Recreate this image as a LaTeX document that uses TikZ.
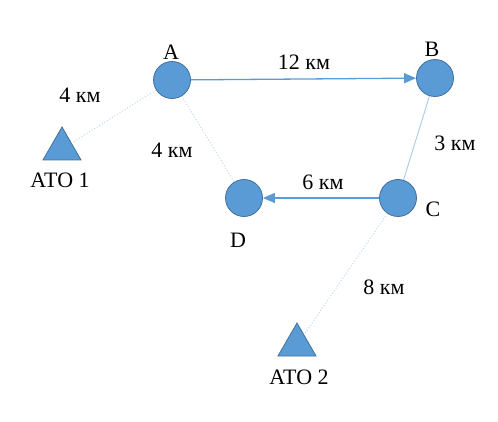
\documentclass[tikz,border=0pt]{standalone}
\usepackage{fontspec}
\setmainfont{Liberation Serif}
\usetikzlibrary{shapes.geometric,arrows.meta}
\definecolor{stfill}{HTML}{5B9BD5}
\definecolor{stdraw}{HTML}{41719C}
\definecolor{lightlink}{HTML}{BDD7EE}
\tikzset{
  station/.style={
    shape = circle,
    draw = stdraw,
    fill = stfill,
    line width = 0.8pt,
    minimum size = 37pt,
    inner sep = 0pt
  },
  ato/.style={
    shape = regular polygon,
    regular polygon sides = 3,
    draw = stdraw,
    fill = stfill,
    line width = 0.8pt,
    minimum size = 44pt,
    inner sep = 0pt
  },
  route/.style={
    draw = stfill,
    line width = 1.3pt,
    -{Triangle[length=12pt,width=10pt]}
  },
  path/.style={
    draw = lightlink,
    line width = 1pt,
    dotted
  },
  every picture/.style = {
    font=\fontsize{22}{25}\selectfont
  }
}

\begin{document}
\begin{tikzpicture}[x=1pt,y=-1pt]
  \useasboundingbox (0,0) rectangle (498,422);
  \foreach \n/\x/\y in {A/172/80,B/435/78,C/398/198,D/244/198}{
    \node[station] (\n) at (\x,\y) {};
  }
  \node[ato] (ato1) at (62,149) {};
  \node[ato] (ato2) at (297,345) {};
  % names
  \node (lA) at (171,52) {A};
  \node (lB) at (432,49) {B};
  \node (lC) at (433,209) {C};
  \node (lD) at (238,240) {D};
  \node (lato1) at (60,180) {АТО 1};
  \node (lato2) at (299,377) {АТО 2};
  % links
  \draw[route] (A) -- (B);
  \draw[route] (C) -- (D);
  \draw[path] (A) -- (ato1);
  \draw[path] (A) -- (D);
  \draw[path] (C) -- (ato2);
  \draw[lightlink!80!stfill, line width=0.9pt] (B) -- (C);
  % distances
  \node (dAB) at (304,62) {12 км};
  \node (dA1) at (80,95) {4 км};
  \node (dAD) at (172,150) {4 км};
  \node (dBC) at (455,143) {3 км};
  \node (dCD) at (323,182) {6 км};
  \node (dC2) at (384,287) {8 км};
\end{tikzpicture}
\end{document}
